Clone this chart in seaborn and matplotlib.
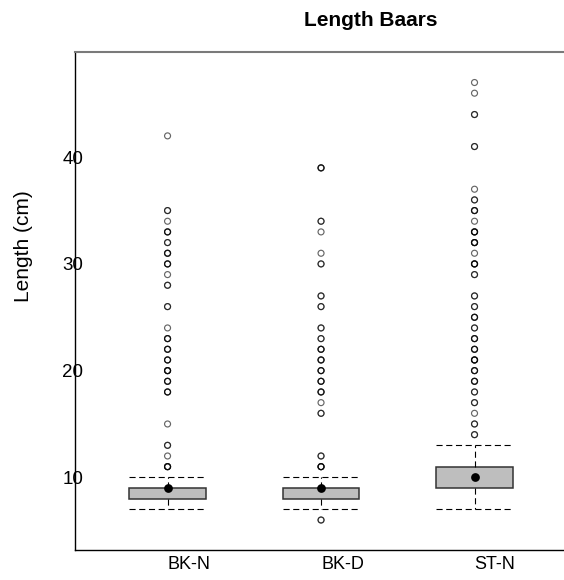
import matplotlib
matplotlib.use("Agg")
import matplotlib.pyplot as plt
import seaborn as sns
import pandas as pd

# Groups of bars
groups = ["BK-N", "BK-D", "ST-N"]

# Five-number summaries per group (cm)
whisker_low = [7, 7, 7]
q1 = [8, 8, 9]
median = [9, 9, 10]
q3 = [9, 9, 11]
whisker_high = [10, 10, 13]

# Outlying lengths (cm) and how many bars share each length
bkn_out = [42, 35, 34, 33, 32, 31, 30, 29, 28, 26, 24, 23, 22, 21, 20, 19, 18, 15, 13, 12, 11]
bkn_cnt = [1, 2, 1, 3, 2, 3, 3, 1, 2, 2, 1, 3, 3, 3, 4, 3, 3, 1, 2, 1, 4]
bkd_out = [39, 34, 33, 31, 30, 27, 26, 24, 23, 22, 21, 20, 19, 18, 17, 16, 12, 11, 6]
bkd_cnt = [3, 2, 1, 1, 2, 2, 2, 2, 2, 3, 3, 3, 3, 3, 1, 2, 2, 4, 2]
stn_out = [47, 46, 44, 41, 37, 36, 35, 34, 33, 32, 31, 30, 29, 27, 26, 25, 24, 23, 22,
           21, 20, 19, 18, 17, 16, 15, 14]
stn_cnt = [1, 1, 2, 2, 1, 2, 3, 1, 4, 4, 1, 4, 2, 2, 2, 3, 2, 3, 3, 4, 3, 3, 2, 2, 1, 2, 2]

y_ticks = [10, 20, 30, 40]

sns.set_theme(style="white")
plt.rcParams["font.family"] = ["Liberation Sans", "DejaVu Sans"]
plt.rcParams["lines.scale_dashes"] = False
for key in ["text.color", "axes.labelcolor", "xtick.color", "ytick.color"]:
    plt.rcParams[key] = "black"

W, H = 564, 580
fig = plt.figure(figsize=(W / 100, H / 100), dpi=100)
ax = fig.add_axes([75 / W, 30 / H, (W - 75) / W, (550 - 52) / H])

# Boxes and dashed whiskers from the summaries
stats = [
    dict(label=g, whislo=wl, q1=a, med=m, q3=b, whishi=wh, fliers=[])
    for g, wl, a, m, b, wh in zip(groups, whisker_low, q1, median, q3, whisker_high)
]
dash = (0, (4.4, 2.6))
ax.bxp(
    stats,
    positions=range(len(groups)),
    widths=0.5,
    capwidths=0.5,
    patch_artist=True,
    showfliers=False,
    boxprops=dict(facecolor="#bebebe", edgecolor="#333333", linewidth=1.1),
    whiskerprops=dict(color="black", linestyle=dash, linewidth=0.8),
    capprops=dict(color="black", linestyle=dash, linewidth=0.8),
    medianprops=dict(linewidth=0),
    manage_ticks=False,
)

# Outlying observations, one row per bar
rows = []
for g, vals, cnts in zip(groups, [bkn_out, bkd_out, stn_out], [bkn_cnt, bkd_cnt, stn_cnt]):
    for v, c in zip(vals, cnts):
        rows += [(g, v)] * c
outliers = pd.DataFrame(rows, columns=["group", "length"])

sns.stripplot(
    data=outliers, x="group", y="length", order=groups, jitter=False,
    marker="o", size=4.3, facecolor="none", edgecolor="black", linewidth=0.85,
    alpha=0.6, ax=ax, zorder=3,
)

# Medians drawn as solid dots
med_df = pd.DataFrame({"group": groups, "length": median})
sns.stripplot(
    data=med_df, x="group", y="length", order=groups, jitter=False,
    marker="o", size=6.3, color="black", linewidth=0, ax=ax, zorder=4,
)

ax.set_xlim(-0.603, 2.583)
ax.set_ylim(3.19, 49.86)
ax.set_yticks(y_ticks)
ax.set_yticklabels([str(t) for t in y_ticks], fontsize=13.5)
ax.set_xticks(range(len(groups)))
ax.set_xticklabels(groups, fontsize=13, ha="left")
ax.tick_params(axis="y", length=0, pad=-5.8)
ax.tick_params(axis="x", length=0, pad=4)
ax.set_xlabel("")
ax.set_ylabel("Length (cm)", fontsize=15)
ax.yaxis.set_label_coords(-0.086, 0.61)

for side in ["left", "bottom"]:
    ax.spines[side].set_color("black")
    ax.spines[side].set_linewidth(1.0)
ax.spines["top"].set_color("#7a7a7a")
ax.spines["top"].set_linewidth(1.5)
ax.spines["right"].set_visible(False)

fig.text(370.5 / W, 1 - 26 / H, "Length Baars", ha="center", va="baseline",
         fontsize=15, fontweight="bold")

fig.savefig("out.png", dpi=100, facecolor="white")
